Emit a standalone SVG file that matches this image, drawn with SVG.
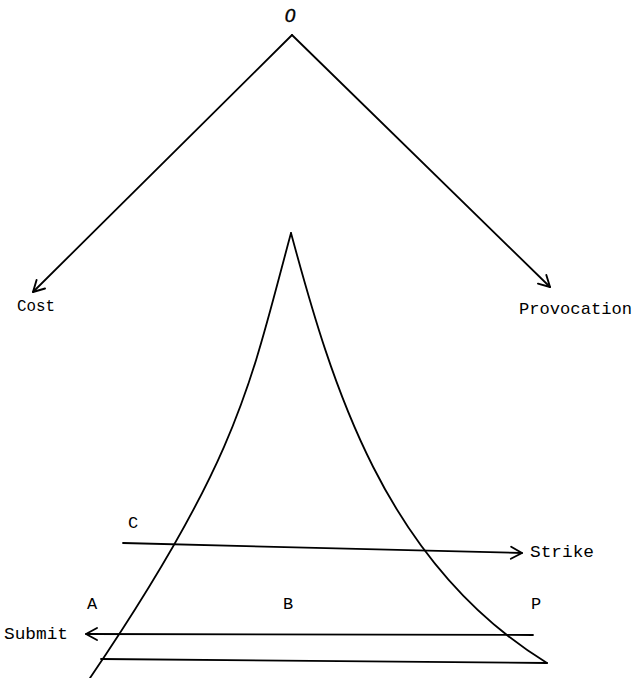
<svg xmlns="http://www.w3.org/2000/svg" width="634" height="678" viewBox="0 0 634 678">
<style>
.ln{fill:none;stroke:#000;stroke-width:1.8;stroke-linecap:round;stroke-linejoin:round}
.tx{font-family:"Liberation Mono","Courier New",monospace;font-size:17px;fill:#000}
.o{font-family:"Liberation Sans",Arial,sans-serif;font-style:italic;font-size:19px;fill:#000;text-anchor:middle;stroke:#000;stroke-width:0.4}
</style>
<defs>
<marker id="ah" markerUnits="userSpaceOnUse" markerWidth="16" markerHeight="16" viewBox="0 0 16 16" refX="14" refY="8" orient="auto">
<path d="M3,2 L14,8 L3,14" fill="none" stroke="#000" stroke-width="1.9" stroke-linecap="round" stroke-linejoin="round"/>
</marker>
</defs>
<rect width="634" height="678" fill="#fff"/>
<g id="node-O"><text class="o" x="290" y="22">0</text></g>
<g id="node-cost"><text class="tx" x="17" y="311" textLength="38" lengthAdjust="spacingAndGlyphs">Cost</text></g>
<g id="node-provocation"><text class="tx" x="519" y="314" textLength="113" lengthAdjust="spacingAndGlyphs">Provocation</text></g>
<g id="curve-left"><path class="ln" d="M291,233 C250.5,383 239.6,458 90,678"/></g>
<g id="curve-right"><path class="ln" d="M291,233 C331.5,383 384,563 547,663"/></g>
<g id="node-C"><text class="tx" x="128" y="528">C</text></g>
<g id="node-strike"><text class="tx" x="530" y="557" textLength="64" lengthAdjust="spacingAndGlyphs">Strike</text></g>
<g id="node-A"><text class="tx" x="87" y="609">A</text></g>
<g id="node-B"><text class="tx" x="283" y="609">B</text></g>
<g id="node-P"><text class="tx" x="531" y="609">P</text></g>
<g id="node-submit"><text class="tx" x="4" y="639" textLength="64" lengthAdjust="spacingAndGlyphs">Submit</text></g>
<g id="connectors">
<path class="ln" d="M292,35 L33,292" marker-end="url(#ah)"/>
<path class="ln" d="M292,35 L550,287" marker-end="url(#ah)"/>
<path class="ln" d="M123,543 L522,553" marker-end="url(#ah)"/>
<path class="ln" d="M533,635 L86,634" marker-end="url(#ah)"/>
<path class="ln" d="M101,659 L547,663"/>
</g>
</svg>
